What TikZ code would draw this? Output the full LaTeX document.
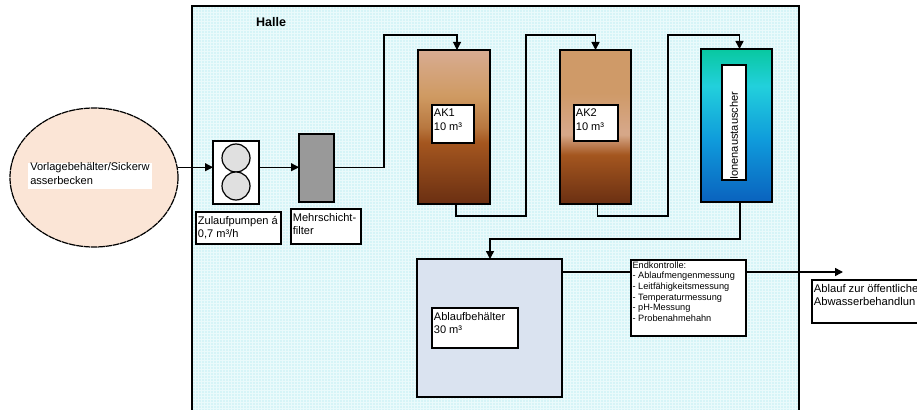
\documentclass[tikz,border=0pt]{standalone}
\usepackage{fontspec}
\setmainfont{Liberation Sans}
\usetikzlibrary{arrows.meta,shapes.geometric}
\definecolor{akA}{HTML}{6A2F12}
\definecolor{akB}{HTML}{A4561F}
\definecolor{akC}{HTML}{B87840}
\definecolor{akD}{HTML}{CF9A62}
\definecolor{akE}{HTML}{D8AC92}
\definecolor{akF}{HTML}{D6A788}
\definecolor{akG}{HTML}{CF9A68}
\definecolor{ioA}{HTML}{0A62BE}
\definecolor{ioB}{HTML}{0F9ADB}
\definecolor{ioC}{HTML}{22D0DC}
\definecolor{ioD}{HTML}{08C8A0}
\definecolor{hall}{HTML}{D6F4F7}
\definecolor{hallgrid}{HTML}{EAFAFB}
\definecolor{peach}{HTML}{FBE5D6}
\definecolor{tankblue}{HTML}{DAE3F0}
\pgfdeclareverticalshading{akone}{100bp}{
  color(0bp)=(akA); color(25bp)=(akA); color(45bp)=(akB); color(50bp)=(akC); color(60bp)=(akD); color(75bp)=(akE); color(100bp)=(akE)}
\pgfdeclareverticalshading{aktwo}{100bp}{
  color(0bp)=(akA); color(25bp)=(akA); color(41bp)=(akB); color(47.5bp)=(akF); color(49bp)=(akF); color(61bp)=(akG); color(75bp)=(akG); color(100bp)=(akG)}
\pgfdeclareverticalshading{ionshade}{100bp}{
  color(0bp)=(ioA); color(25bp)=(ioA); color(45bp)=(ioB); color(63bp)=(ioC); color(75bp)=(ioD); color(100bp)=(ioD)}
\tikzset{
  x=0.75pt,y=-0.75pt,
  box/.style={draw=black,line width=1.1pt,fill=white,inner sep=0pt,outer sep=0pt,rectangle},
  txt/.style={anchor=north west,inner xsep=1.2pt,inner ysep=3pt,font=\fontsize{8.3}{10}\selectfont,align=left,text=black},
  conn/.style={draw=black,line width=1.1pt},
  arr/.style={conn,-{Triangle[length=6pt,width=6pt]}}
}
\newcommand{\bx}[6]{\node[box,#6,minimum width=#4*0.75pt,minimum height=#5*0.75pt] (#1) at (#2,#3) {};}
\begin{document}
\begin{tikzpicture}
\useasboundingbox (0,0) rectangle (917,410);
\clip (0,0) rectangle (917,410);
\fill[white] (0,0) rectangle (917,410);
% Halle
\fill[hall] (192,6) rectangle (799,420);
\draw[hallgrid,line width=0.3pt,step=2.25pt] (192,6) grid (799,420);
\draw[black,line width=1.6pt] (192,420) -- (192,6) -- (799,6) -- (799,420);
\node[anchor=center,inner sep=0pt,font=\fontsize{9.4}{10}\selectfont\bfseries] (halle) at (271,22) {Halle};
% Vorlage
\node[ellipse,draw=black,line width=0.9pt,dash pattern=on 5pt off 0.5pt,fill=peach,minimum width=168*0.75pt,minimum height=139*0.75pt,inner sep=0pt] (ell) at (94,177.5) {};
\node[fill=white,inner sep=0pt,minimum width=124*0.75pt,minimum height=26*0.75pt] (elltxt) at (90,176) {};
\node[txt,inner sep=0pt] (elllab) at (30,162.5) {Vorlagebehälter/Sickerw\\asserbecken};
% pump
\bx{pump}{236}{172.5}{46}{63}{}
\node[circle,draw=black,line width=0.9pt,fill=black!12,minimum size=28*0.75pt,inner sep=0pt] (c1) at (236,158) {};
\node[circle,draw=black,line width=0.9pt,fill=black!12,minimum size=28*0.75pt,inner sep=0pt] (c2) at (236,186) {};
\bx{zul}{238.5}{228}{85}{32}{}
\node[txt] (zultxt) at (zul.north west) {Zulaufpumpen á\\0,7 m³/h};
% filter
\bx{filter}{316.5}{168}{35}{68}{fill=black!40}
\bx{mehr}{326}{226.5}{70}{35}{}
\node[txt] (mehrtxt) at (mehr.north west) {Mehrschicht-\\filter};
% AK1
\bx{ak1}{454}{127}{72}{154}{shading=akone}
\bx{ak1l}{453}{124}{42}{38}{}
\node[txt] (ak1t) at (ak1l.north west) {AK1\\10 m³};
% AK2
\bx{ak2}{595.5}{127}{71}{154}{shading=aktwo}
\bx{ak2l}{596}{123}{44}{36}{}
\node[txt] (ak2t) at (ak2l.north west) {AK2\\10 m³};
% Ion
\bx{ion}{736.5}{125.5}{71}{153}{shading=ionshade}
\bx{ionl}{734}{122.5}{24}{115}{}
\node[anchor=west,rotate=90,inner sep=0pt,font=\fontsize{8.3}{10}\selectfont] (iont) at (734,180) {Ionenaustauscher};
% Ablauf tank
\bx{tank}{489.5}{328}{145}{138}{fill=tankblue}
\bx{tankl}{475}{328}{86}{40}{}
\node[txt] (tankt) at (tankl.north west) {Ablaufbehälter\\30 m³};
% Endkontrolle
\bx{end}{688.5}{298}{115}{76}{}
\node[txt,inner xsep=1pt,inner ysep=1pt,font=\fontsize{6.9}{8}\selectfont] (endt) at (end.north west) {Endkontrolle:\\- Ablaufmengenmessung\\- Leitfähigkeitsmessung\\- Temperaturmessung\\- pH-Messung\\- Probenahmehahn};
% outlet
\bx{out}{870}{301.5}{116}{43}{line width=0.8pt}
\node[txt,font=\fontsize{8.4}{10}\selectfont] (outt) at (out.north west) {Ablauf zur öffentliche\\Abwasserbehandlun};
% connectors
\coordinate (c-a) at (384,35);
\coordinate (c-b1) at (456,216);
\coordinate (c-b2) at (526,35);
\coordinate (c-c1) at (597,216);
\coordinate (c-c2) at (668,35);
\coordinate (c-d) at (490,239);
\coordinate (c-e) at (843,272);
\draw[arr,line width=0.8pt] (ell.7) -- (ell.7 -| pump.west);
\draw[arr,line width=0.8pt] (ell.7 -| pump.east) -- (ell.7 -| filter.west);
\draw[arr,line width=0.8pt] (ell.7 -| filter.east) -| (c-a) -| ([xshift=2.25pt]ak1.north);
\draw[arr] ([xshift=1.5pt]ak1.south) |- (c-b1) -| (c-b2) -| ([xshift=0pt]ak2.north);
\draw[arr] ([xshift=1.5pt]ak2.south) |- (c-c1) -| (c-c2) -| ([xshift=2.25pt]ion.north);
\draw[arr] ([xshift=2.6pt]ion.south) |- (c-d) -- (c-d |- tank.north);
\draw[conn] (c-e -| tank.east) -- (c-e -| end.west);
\draw[arr] (c-e -| end.east) -- (c-e);
\end{tikzpicture}
\end{document}
